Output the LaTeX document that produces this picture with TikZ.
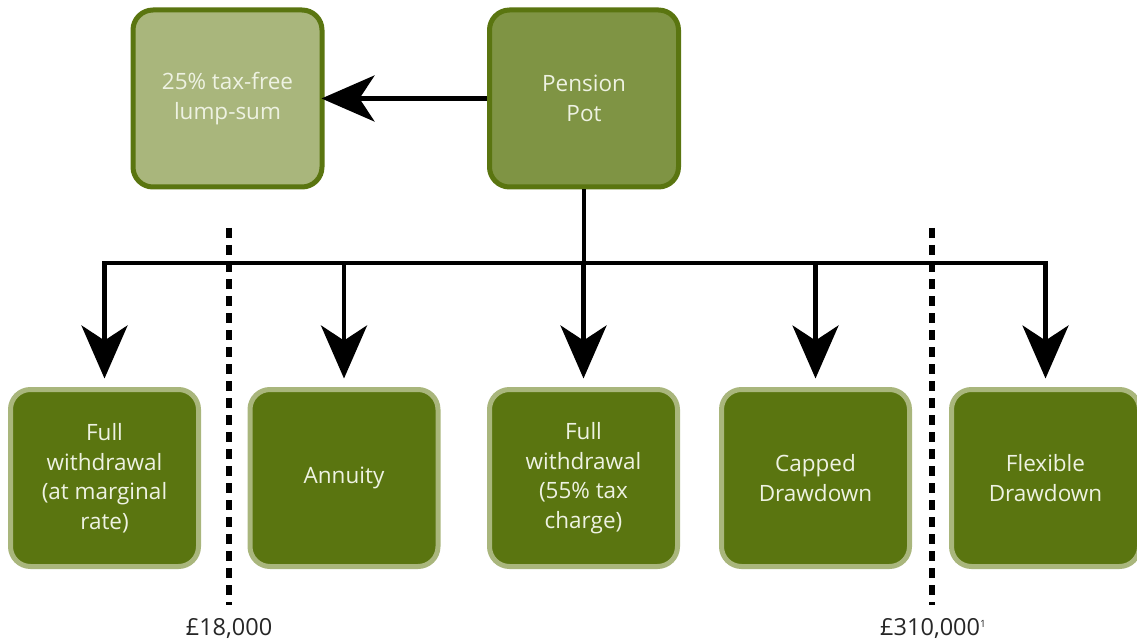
\documentclass[tikz,border=0pt]{standalone}
\usepackage{fontspec}
\setmainfont{Open Sans}
\usetikzlibrary{arrows.meta}
\definecolor{dkgreen}{HTML}{5A7510}
\definecolor{medgreen}{HTML}{7F9444}
\definecolor{ltgreen}{HTML}{A9B67C}
\definecolor{txtcol}{HTML}{EEF2E2}
\begin{document}
\begin{tikzpicture}[x=1pt,y=-1pt,
 box/.style={rounded corners=20pt, line width=5pt, minimum width=189pt, minimum height=177pt,
   align=center, text=txtcol, font=\fontsize{22.5}{29.5}\selectfont, inner sep=0pt},
 topbox/.style={box, draw=dkgreen},
 botbox/.style={box, draw=ltgreen, fill=dkgreen, minimum width=188pt},
 conn/.style={line width=4.5pt, black},
 arr/.style={conn, -{Stealth[length=53pt,width=46pt,inset=15pt]}},
 sep/.style={line width=5.5pt, black, dash pattern=on 10pt off 7pt},
 lab/.style={font=\fontsize{23.5}{28}\selectfont, text=black!85, inner sep=0pt}
]
\useasboundingbox (0,0) rectangle (1137,644);

% top boxes
\node[topbox, fill=ltgreen] (lump) at (227.5,98.5) {25\% tax-free\\lump-sum};
\node[topbox, fill=medgreen] (pot) at (584,98.5) {Pension\\Pot};

% bottom boxes
\node[botbox] (b1) at (104.5,478) {Full\\withdrawal\\(at marginal\\rate)};
\node[botbox] (b2) at (344,478) {Annuity};
\node[botbox] (b3) at (583.5,478) {Full\\withdrawal\\(55\% tax\\charge)};
\node[botbox] (b4) at (815.5,478) {Capped\\Drawdown};
\node[botbox] (b5) at (1045.5,478) {Flexible\\Drawdown};

% connectors
\coordinate (bar) at (584,263);
\draw[arr, shorten >=-3pt] (pot.west) -- (lump.east);
\draw[conn] (pot.south) -- (bar);
\draw[conn, line cap=rect] (b1.north |- bar) -- (b5.north |- bar);
\foreach \b in {b1,b2,b3,b4,b5}{
  \draw[arr, shorten >=8.5pt] (\b.north |- bar) -- (\b.north);
}

% thresholds
\coordinate (t1top) at (229,228);
\coordinate (t1bot) at (229,605);
\coordinate (t2top) at (932,228);
\coordinate (t2bot) at (932,605);
\draw[sep] (t1top) -- (t1bot);
\draw[sep] (t2top) -- (t2bot);
\node[lab] (l1) at (229,628) {£18,000};
\node[lab] (l2) at (933,628) {£310,000{\fontsize{10}{10}\selectfont\raisebox{8pt}{1}}};
\end{tikzpicture}
\end{document}
